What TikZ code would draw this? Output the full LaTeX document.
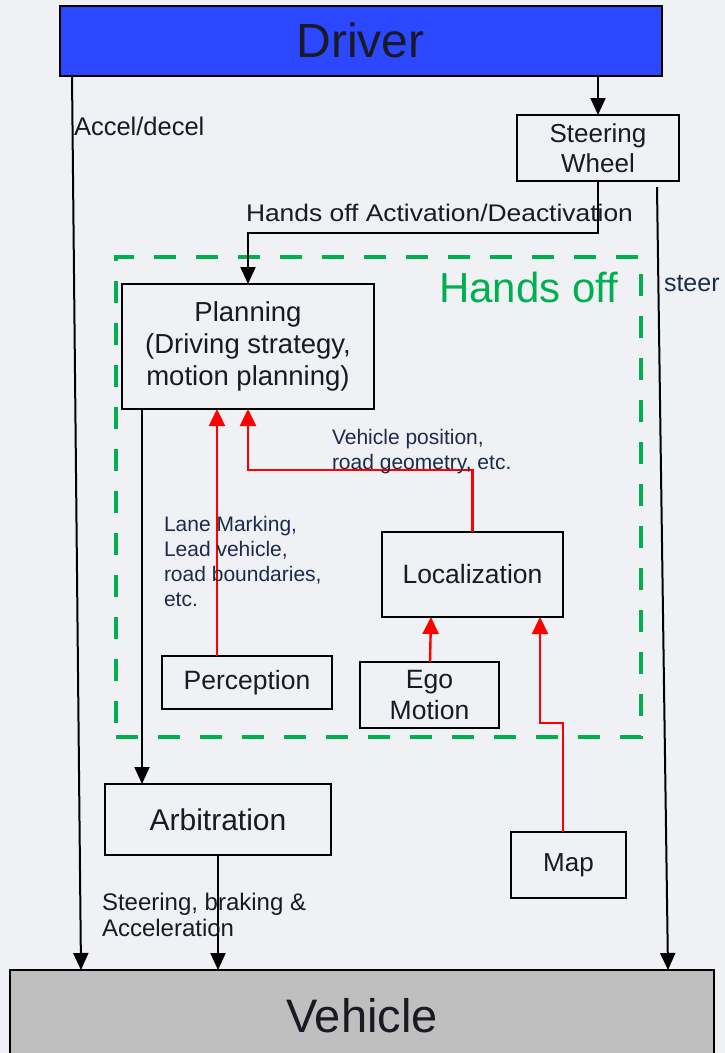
\documentclass[tikz,border=0pt]{standalone}
\usepackage{fontspec}
\usepackage{graphicx}
\setmainfont{Liberation Sans}
\usetikzlibrary{arrows.meta,calc}

\definecolor{bg}{HTML}{F0F1F5}
\definecolor{driverblue}{HTML}{2B48FF}
\definecolor{vehgray}{HTML}{BFBFBF}
\definecolor{handsgreen}{HTML}{00B050}
\definecolor{ink}{HTML}{1A1A24}
\definecolor{navy}{HTML}{1C2B4A}
\definecolor{sigred}{HTML}{FF0000}

\newcommand{\fsz}[2]{\fontsize{#1}{#2}\selectfont}

\begin{document}
\begin{tikzpicture}[x=1pt,y=-1pt,
  box/.style={draw=black, line width=2pt, inner sep=0pt, outer sep=0pt, align=center, text=ink},
  wire/.style={draw=black, line width=2pt},
  arr/.style={wire, -{Triangle[length=17pt,width=15pt]}},
  redarr/.style={draw=sigred, line width=2.4pt, -{Triangle[length=17pt,width=16pt]}},
  lbl/.style={inner sep=0pt, outer sep=0pt, align=left, text=navy},
  zonebox/.style={draw=handsgreen, line width=4.5pt, dash pattern=on 22pt off 20pt, inner sep=0pt, outer sep=0pt},
]
\useasboundingbox (0,0) rectangle (725,1053);
\fill[bg] (0,0) rectangle (725,1053);

% Hands-off zone frame
\node[zonebox, minimum width=525pt, minimum height=480pt] (zone) at (378.5,497) {};
\node[anchor=base west, inner sep=0pt, text=handsgreen, font={\fsz{42}{46}}] (zonelabel) at (439,302) {Hands off};

% Blocks
\node[box, fill=driverblue, minimum width=602pt, minimum height=70pt, font={\fsz{48}{52}}] (driver) at (360.5,40.5) {Driver};
\node[box, minimum width=162pt, minimum height=66pt, font={\fsz{26}{30}}] (wheel) at (598,148) {Steering\\Wheel};
\node[box, minimum width=252pt, minimum height=125pt, font={\fsz{27.5}{32}}] (plan) at (248,346.5) {Planning\\(Driving strategy,\\motion planning)};
\node[box, minimum width=181pt, minimum height=85pt, font={\fsz{26.5}{30}}] (loc) at (472.5,574.5) {Localization};
\node[box, minimum width=170pt, minimum height=53pt, font={\fsz{26.5}{30}}] (perc) at (247,682.5) {Perception};
\node[box, minimum width=139pt, minimum height=66pt, font={\fsz{26.5}{31}}] (ego) at (429.5,695) {Ego\\Motion};
\node[box, minimum width=115pt, minimum height=66pt, font={\fsz{26}{30}}] (map) at (568.5,865) {Map};
\node[box, minimum width=226pt, minimum height=71pt, font={\fsz{30}{34}}] (arb) at (218,819.5) {Arbitration};
\node[box, fill=vehgray, minimum width=704pt, minimum height=92pt, font={\fsz{47}{52}}] (vehicle) at (362,1016) {Vehicle};

% Free ends
\coordinate (steerTop) at (657,187);

% Driver-side connectors
\draw[arr] (driver.south -| wheel.north) -- (wheel.north);
\draw[arr] ($(driver.south west)+(12.5,0)$) -- ($(vehicle.north west)+(71,0)$);
\draw[arr] (steerTop) -- ($(vehicle.north west)+(658,0)$);
\draw[arr] (wheel.south) -- ++(0,52) -| (plan.north);
\draw[arr] ($(plan.south west)+(20,0)$) -- ($(arb.north west)+(37,0)$);
\draw[arr] (arb.south) -- (arb.south |- vehicle.north);

% Sensor and map data flows
\draw[redarr] ($(perc.north west)+(55,0)$) -- ($(plan.south west)+(95,0)$);
\draw[redarr] (loc.north) -- ++(0,-62) -| (plan.south);
\draw[redarr] ($(ego.north)+(0.5,0)$) -- ($(loc.south west)+(49,0)$);
\draw[redarr] ($(map.north west)+(52,0)$) -- ++(0,-109) -| ($(loc.south west)+(158,0)$);

% Connector labels
\node[lbl, anchor=base west, text=ink, font={\fsz{25.5}{30}}] (accel) at (74,135) {Accel/decel};
\node[lbl, anchor=base west, text=ink, font={\fsz{24}{28}}] (hol) at (246,221) {\scalebox{1.1}[1]{Hands off Activation/Deactivation}};
\node[lbl, anchor=base west, font={\fsz{25}{30}}] (steerlbl) at (664,291) {steer};
\node[lbl, anchor=west, font={\fsz{21}{25}}] (vplbl) at (332,451.5) {Vehicle position,\\road geometry, etc.};
\node[lbl, anchor=west, font={\fsz{21}{25}}] (perclbl) at (164,561) {Lane Marking,\\Lead vehicle,\\road boundaries,\\etc.};
\node[lbl, anchor=west, text=ink, font={\fsz{24}{26}}] (arblbl) at (102,915) {Steering, braking \&\\Acceleration};
\end{tikzpicture}
\end{document}
